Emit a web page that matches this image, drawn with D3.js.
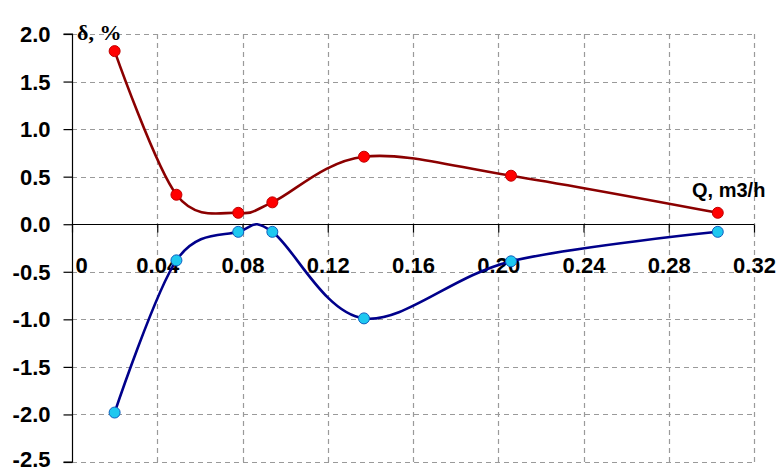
<!DOCTYPE html>
<html><head><meta charset="utf-8">
<script src="https://cdn.jsdelivr.net/npm/d3@7"></script>
<style>html,body{margin:0;padding:0;background:#fff;}svg{display:block;}</style>
</head><body>
<script>
const xValues = [0.02, 0.049, 0.078, 0.094, 0.137, 0.206, 0.303];
const upperValues = [1.82, 0.31, 0.12, 0.23, 0.71, 0.51, 0.12];
const lowerValues = [-1.98, -0.38, -0.08, -0.08, -0.99, -0.39, -0.08];
const xTicks = [0, 0.04, 0.08, 0.12, 0.16, 0.20, 0.24, 0.28, 0.32];
const xTickLabels = ["0", "0.04", "0.08", "0.12", "0.16", "0.20", "0.24", "0.28", "0.32"];
const yTicks = [2.0, 1.5, 1.0, 0.5, 0.0, -0.5, -1.0, -1.5, -2.0, -2.5];
const yLabel = "δ, %";
const xLabel = "Q, m3/h";

const W = 781, H = 471;
const svg = d3.select("body").append("svg").attr("width", W).attr("height", H);
const x = d3.scaleLinear().domain([0, 0.32]).range([72, 754]);
const y = d3.scaleLinear().domain([-2.5, 2.0]).range([462, 34]);

const grid = svg.append("g").attr("stroke", "#9a9a9a").attr("stroke-width", 1.2).attr("stroke-dasharray", "5,4");
yTicks.forEach(v => {
  grid.append("line").attr("x1", 72).attr("x2", 754).attr("y1", Math.round(y(v)) + 0.5).attr("y2", Math.round(y(v)) + 0.5);
});
xTicks.slice(1).forEach(v => {
  grid.append("line").attr("y1", 34).attr("y2", 462).attr("x1", Math.round(x(v)) + 0.5).attr("x2", Math.round(x(v)) + 0.5);
});

const labelFont = "Liberation Sans, Arial, sans-serif";

// Y axis
const yAxis = d3.axisLeft(y).tickValues(yTicks).tickSize(9).tickPadding(13);
const gy = svg.append("g").attr("transform", "translate(72.5,0)").call(yAxis);
gy.select(".domain").attr("stroke", "#000").attr("stroke-width", 1.2).attr("d", `M-9,${y(2)}H0V${y(-2.5)}H-9`);
gy.selectAll(".tick line").attr("stroke", "#000").attr("stroke-width", 1.2);
gy.selectAll(".tick text").attr("font-family", labelFont).attr("font-weight", "bold").attr("font-size", 22).attr("fill", "#000")
  .attr("dy", d => d === -2.5 ? "0.22em" : "0.34em")
  .text(d => d3.format(".1f")(d).replace("−", "-"));

// X axis at y=0
const xAxis = d3.axisBottom(x).tickValues(xTicks).tickSize(8).tickFormat((d, i) => xTickLabels[i]).tickPadding(25);
const gx = svg.append("g").attr("transform", `translate(0,${Math.round(y(0)) + 0.5})`).call(xAxis);
gx.select(".domain").attr("stroke", "#000").attr("stroke-width", 1.2).attr("d", `M${x(0)},0H${x(0.32)}`);
gx.selectAll(".tick line").attr("stroke", "#000").attr("stroke-width", 1.2);
gx.selectAll(".tick text").attr("font-family", labelFont).attr("font-weight", "bold").attr("font-size", 22).attr("fill", "#000")
  .attr("dx", (d, i) => i === 0 ? 9 : 0);

// Curves
const line = d3.line().x(d => x(d[0])).y(d => y(d[1])).curve(d3.curveCardinal.tension(0));
const upper = xValues.map((v, i) => [v, upperValues[i]]);
const lower = xValues.map((v, i) => [v, lowerValues[i]]);

svg.append("path").datum(upper).attr("d", line).attr("fill", "none").attr("stroke", "#8b0000").attr("stroke-width", 2.6);
svg.append("path").datum(lower).attr("d", line).attr("fill", "none").attr("stroke", "#00008b").attr("stroke-width", 2.6);

svg.append("g").selectAll("circle").data(upper).join("circle")
  .attr("cx", d => x(d[0])).attr("cy", d => y(d[1])).attr("r", 5.5)
  .attr("fill", "#ff0000").attr("stroke", "#c00000").attr("stroke-width", 1);
svg.append("g").selectAll("circle").data(lower).join("circle")
  .attr("cx", d => x(d[0])).attr("cy", d => y(d[1])).attr("r", 5.5)
  .attr("fill", "#1ec8f0").attr("stroke", "#1060c0").attr("stroke-width", 1);

// Axis titles
svg.append("text").attr("x", 77).attr("y", 40).attr("font-family", "Liberation Serif, serif").attr("font-weight", "bold").attr("font-size", 22).attr("fill", "#000").text(yLabel);
svg.append("text").attr("x", 692).attr("y", 197).attr("font-family", labelFont).attr("font-weight", "bold").attr("font-size", 20).attr("fill", "#000").text(xLabel);
</script>
</body></html>
